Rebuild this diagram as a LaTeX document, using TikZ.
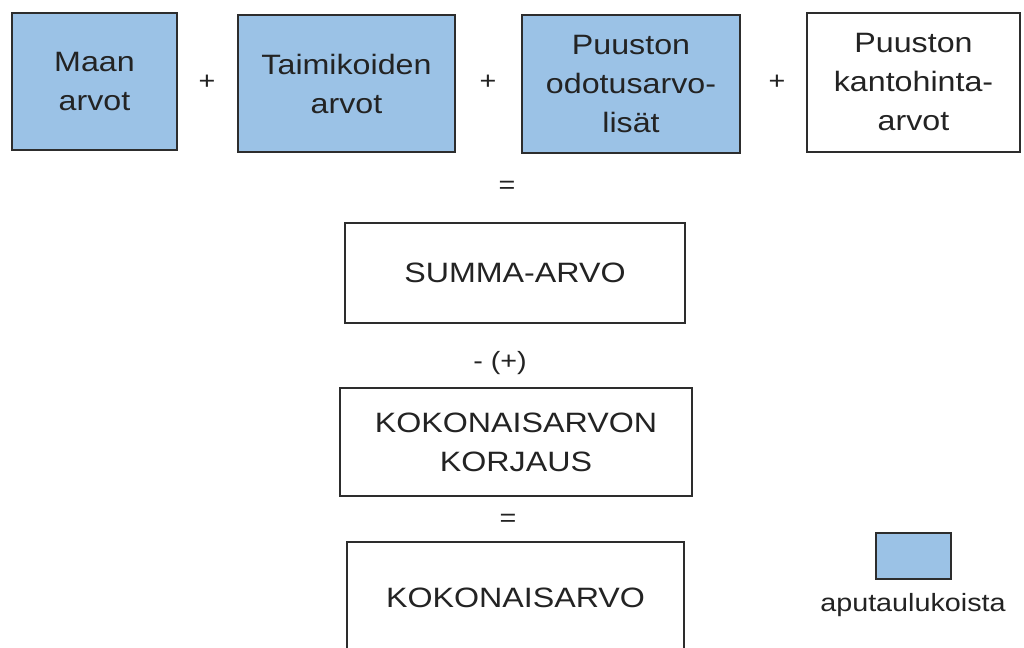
\documentclass[tikz,border=0pt]{standalone}
\usepackage{fontspec}
\setmainfont{Liberation Sans}[FakeStretch=1.15]
\definecolor{tablue}{RGB}{155,194,230}
\definecolor{edgegray}{RGB}{45,45,45}
\definecolor{txtgray}{RGB}{35,35,35}
\tikzset{
  valbox/.style={draw=edgegray,line width=1.1pt,fill=tablue,align=center,text=txtgray,
    font=\fontsize{14}{19.5}\selectfont,inner sep=0pt},
  sumbox/.style={valbox,fill=white},
  oper/.style={text=txtgray,font=\fontsize{12.5}{15}\selectfont,inner sep=0pt}
}
\begin{document}
\begin{tikzpicture}[x=0.5pt,y=-0.5pt]
\clip (0,0) rectangle (1024,648);
\fill[white] (0,0) rectangle (1024,648);
% ylarivi
\node [valbox,minimum width=82.5pt,minimum height=68.5pt] (maa) at (94.5,81.5) {Maan\\arvot};
\node [oper] (p1) at (207,82) {+};
\node [valbox,minimum width=108.5pt,minimum height=68.5pt] (taimi) at (346.5,83.5) {Taimikoiden\\arvot};
\node [oper] (p2) at (488,82) {+};
\node [valbox,minimum width=109pt,minimum height=69pt] (odotus) at (631,84) {Puuston\\odotusarvo-\\lisät};
\node [oper] (p3) at (777,82) {+};
\node [sumbox,minimum width=106.5pt,minimum height=69.5pt] (kanto) at (913.5,82.5) {Puuston\\kantohinta-\\arvot};
% keskisarake
\node [oper] (eq1) at (507,187) {=};
\node [sumbox,minimum width=170pt,minimum height=50pt] (summa) at (515,273) {SUMMA-ARVO};
\node [oper] (korj) at (500,363) {- (+)};
\node [sumbox,minimum width=176pt,minimum height=54pt] (korjaus) at (516,442) {KOKONAISARVON\\KORJAUS};
\node [oper] (eq2) at (508,520) {=};
\node [sumbox,minimum width=168.5pt,minimum height=56pt] (koko) at (515.5,598) {KOKONAISARVO};
% selite
\node [valbox,minimum width=37.5pt,minimum height=23pt] (selite) at (913.5,556) {};
\node [text=txtgray,font=\fontsize{12.5}{15}\selectfont,inner sep=0pt] (apu) at (913,605) {aputaulukoista};
\end{tikzpicture}
\end{document}
